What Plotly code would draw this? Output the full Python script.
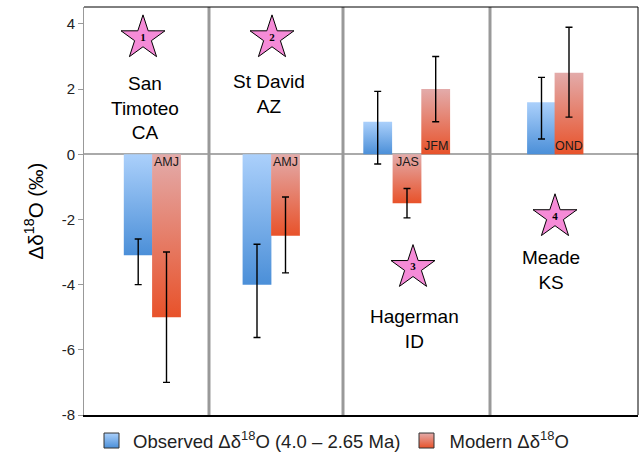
import plotly.graph_objects as go

# ---------------- data ----------------
sites = ["San<br>Timoteo<br>CA", "St David<br>AZ", "Hagerman<br>ID", "Meade<br>KS"]
star_numbers = ["1", "2", "3", "4"]

observed = [-3.1, -4.0, 1.0, 1.6]
observed_err_plus = [0.5, 1.24, 0.93, 0.76]
observed_err_minus = [0.9, 1.62, 1.3, 1.13]

modern_seasons = ["AMJ", "AMJ", "JAS", "JFM", "OND"]
modern = [-5.0, -2.5, -1.5, 2.0, 2.5]
modern_err_plus = [2.0, 1.19, 0.45, 1.0, 1.4]
modern_err_minus = [2.0, 1.14, 0.45, 1.0, 1.36]

y_ticks = [-8, -6, -4, -2, 0, 2, 4]

# ---------------- layout constants (x in px-like units from plot left) ----------------
obs_x = [54.2, 173.0, 293.7, 457.5]
mod_x = [82.5, 201.5, 323.0, 351.7, 485.0]
bar_w = 28.8
dividers = [125, 259, 406]
x_max = 554
star_x = [59, 188, 329, 471]
star_y = [3.57, 3.57, -3.48, -1.92]
label_x = [60.5, 185, 330, 467]
label_y = [1.43, 1.85, -5.36, -3.56]

BLUE_LIGHT, BLUE_DARK = "#abd0fb", "#4b8fd8"
RED_LIGHT, RED_DARK = "#e3abaa", "#e8522a"

fig = go.Figure()


def add_bar(xc, v, light, dark):
    x0, x1 = xc - bar_w / 2, xc + bar_w / 2
    fig.add_trace(go.Scatter(
        x=[x0, x1, x1, x0, x0], y=[0, 0, v, v, 0],
        mode="lines", fill="toself", line=dict(width=0),
        fillgradient=dict(type="vertical", colorscale=[[0, dark], [1, light]]),
        hoverinfo="skip", showlegend=False))


for xc, v in zip(obs_x, observed):
    add_bar(xc, v, BLUE_LIGHT, BLUE_DARK)
for xc, v in zip(mod_x, modern):
    add_bar(xc, v, RED_LIGHT, RED_DARK)

# error bars
err_style = dict(type="data", symmetric=False, color="black", thickness=1.4, width=3.5)
fig.add_trace(go.Scatter(x=obs_x, y=observed, mode="markers",
                         marker=dict(size=1, color="rgba(0,0,0,0)"),
                         error_y=dict(array=observed_err_plus, arrayminus=observed_err_minus, **err_style),
                         showlegend=False, hoverinfo="skip"))
fig.add_trace(go.Scatter(x=mod_x, y=modern, mode="markers",
                         marker=dict(size=1, color="rgba(0,0,0,0)"),
                         error_y=dict(array=modern_err_plus, arrayminus=modern_err_minus, **err_style),
                         showlegend=False, hoverinfo="skip"))

# legend entries (two separate legends for exact placement)
fig.add_trace(go.Scatter(x=[None], y=[None], mode="markers", legend="legend",
                         name="Observed Δδ<sup>18</sup>O (4.0 – 2.65 Ma)",
                         marker=dict(symbol="square", size=15, color=BLUE_LIGHT,
                                     gradient=dict(type="vertical", color=BLUE_DARK),
                                     line=dict(color="#333", width=1))))
fig.add_trace(go.Scatter(x=[None], y=[None], mode="markers", legend="legend2",
                         name="Modern Δδ<sup>18</sup>O",
                         marker=dict(symbol="square", size=15, color=RED_LIGHT,
                                     gradient=dict(type="vertical", color=RED_DARK),
                                     line=dict(color="#333", width=1))))

# stars
fig.add_trace(go.Scatter(x=star_x, y=star_y, mode="markers+text",
                         marker=dict(symbol="star", size=33, color="#f58bd7",
                                     line=dict(color="black", width=1)),
                         text=["<b>%s</b>" % n for n in star_numbers], textposition="middle center",
                         textfont=dict(family="Liberation Serif, serif", size=11, color="black"),
                         showlegend=False, hoverinfo="skip"))

# season labels
for xc, v, s in zip(mod_x, modern, modern_seasons):
    fig.add_annotation(x=xc, y=0, text=s, showarrow=False,
                       yanchor="top" if v < 0 else "bottom", yshift=1 if v < 0 else -1,
                       font=dict(family="Liberation Sans, Arial", size=12.5, color="#1a1a1a"))

# site labels
for xs, ys, s in zip(label_x, label_y, sites):
    fig.add_annotation(x=xs, y=ys, text=s, showarrow=False,
                       font=dict(family="Liberation Sans, Arial", size=19, color="black"))

# panel dividers and borders
for d in dividers:
    fig.add_shape(type="line", x0=d, x1=d, y0=0, y1=1, xref="x", yref="paper",
                  line=dict(color="#999999", width=3))
fig.add_shape(type="line", x0=1, x1=1, y0=0, y1=1, xref="paper", yref="paper",
              line=dict(color="black", width=1))
fig.add_shape(type="line", x0=0, x1=1, y0=1, y1=1, xref="paper", yref="paper",
              line=dict(color="black", width=1))

fig.update_xaxes(range=[0, x_max], showticklabels=False, ticks="", showgrid=False,
                 zeroline=False, showline=True, linecolor="black", linewidth=1.5)
fig.update_yaxes(range=[-8, 4.52], tickvals=y_ticks, ticktext=[str(t) for t in y_ticks],
                 ticks="outside", ticklen=5, tickcolor="#999", tickwidth=1,
                 showgrid=False, zeroline=True, zerolinecolor="#aaaaaa", zerolinewidth=1.5,
                 showline=True, linecolor="#999", linewidth=1,
                 tickfont=dict(family="Liberation Sans, Arial", size=15, color="#222"),
                 title=dict(text="Δδ<sup>18</sup>O (‰)", standoff=12,
                            font=dict(family="Liberation Sans, Arial", size=20.5, color="black")))

leg_font = dict(family="Liberation Sans, Arial", size=18.5, color="#222")
fig.update_layout(
    width=639, height=455,
    margin=dict(l=84, r=1, t=7, b=40, autoexpand=False),
    plot_bgcolor="white", paper_bgcolor="white",
    showlegend=True,
    legend=dict(orientation="h", x=(90 - 84) / 554, xanchor="left",
                y=(415 - 441) / 408, yanchor="middle", itemwidth=33,
                font=leg_font, bgcolor="rgba(0,0,0,0)"),
    legend2=dict(orientation="h", x=(403.5 - 84) / 554, xanchor="left",
                 y=(415 - 441) / 408, yanchor="middle", itemwidth=36,
                 font=leg_font, bgcolor="rgba(0,0,0,0)"),
)

fig.write_html("out.html")
